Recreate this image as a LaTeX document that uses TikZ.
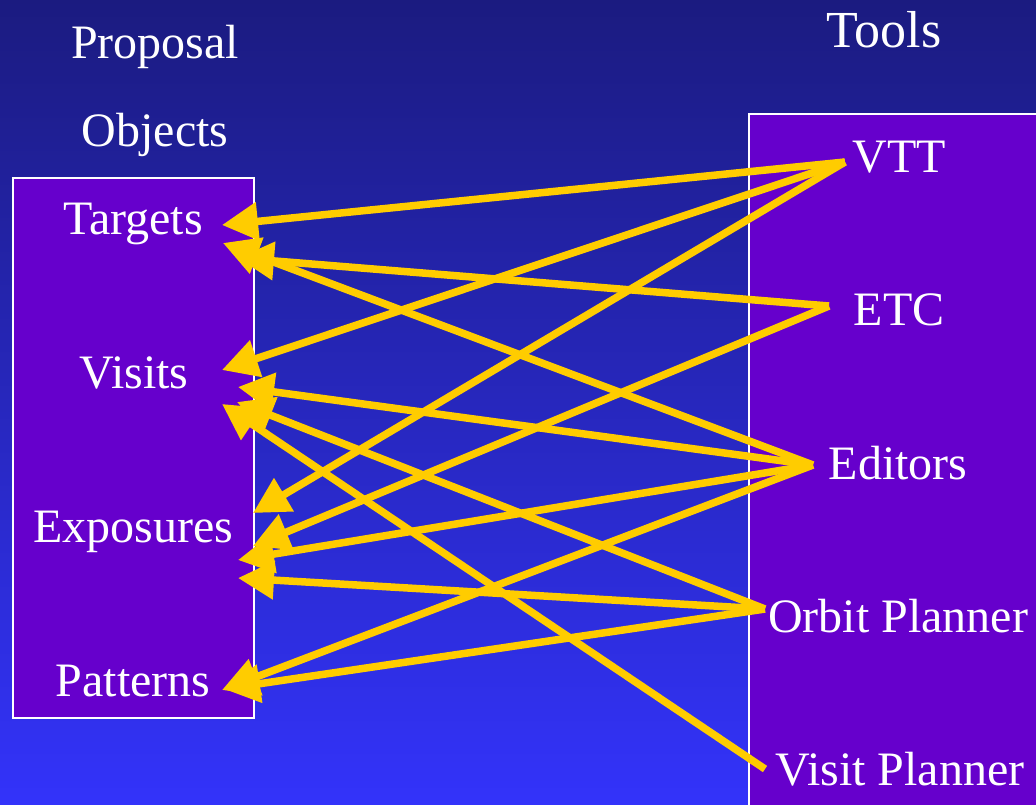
\documentclass[tikz,border=0pt]{standalone}
\usepackage{fontspec}
\setmainfont{Liberation Serif}
\usetikzlibrary{arrows.meta}
\definecolor{navytop}{RGB}{27,27,128}
\definecolor{bluebot}{RGB}{51,51,250}
\definecolor{panelc}{RGB}{102,0,204}
\definecolor{gold}{RGB}{255,204,0}
\begin{document}
\begin{tikzpicture}[x=1pt,y=-1pt,
  lbl/.style={text=white,font=\fontsize{48}{52}\selectfont,anchor=base,inner sep=0pt},
  link/.style={draw=gold,line width=7.5pt,line cap=butt,-{Triangle[length=36pt,width=37pt]}},
  panel/.style={fill=panelc,draw=white,line width=1.5pt}]
\useasboundingbox (0,0) rectangle (1036,804);
% background
\shade[top color=navytop,bottom color=bluebot] (0,0) rectangle (1036,804);
% the two panels
\path[panel] (13,178) rectangle (254,718);
\path[panel] (749,114) rectangle (1050,820);

% headings
\node[lbl] (proposal) at (155,58) {Proposal};
\node[lbl] (objects) at (155,146) {Objects};
\node[lbl,font=\fontsize{52}{56}\selectfont] (tools) at (884,47) {Tools};

% proposal objects
\node[lbl] (targets) at (133,234) {Targets};
\node[lbl] (visits) at (134,388) {Visits};
\node[lbl] (exposures) at (133,542) {Exposures};
\node[lbl] (patterns) at (133,696) {Patterns};

% tools
\node[lbl] (vtt) at (899,172) {VTT};
\node[lbl] (etc) at (899,325) {ETC};
\node[lbl] (editors) at (898,479) {Editors};
\node[lbl] (orbit) at (898,632) {Orbit Planner};
\node[lbl] (visitp) at (900,785) {Visit Planner};

% connector ends on the tool side
\coordinate (vtt-o) at (845,162);
\coordinate (etc-o) at (829,306);
\coordinate (editors-o) at (813,465);
\coordinate (orbit-o) at (765,609);
\coordinate (visitp-o) at (765,769);

% connector ends on the object side
\coordinate (targets-a) at (222,225);
\coordinate (targets-b) at (223,243);
\coordinate (targets-c) at (238,258);
\coordinate (visits-a) at (222,370);
\coordinate (visits-b) at (238,387);
\coordinate (visits-c) at (237,402);
\coordinate (visits-d) at (222,404);
\coordinate (exposures-a) at (253,513);
\coordinate (exposures-b) at (253,546);
\coordinate (exposures-c) at (238,560);
\coordinate (exposures-d) at (238,578);
\coordinate (patterns-a) at (222,690);
\coordinate (patterns-b) at (224,689);

% links
\draw[link] (vtt-o) -- (targets-a);
\draw[link] (vtt-o) -- (visits-a);
\draw[link] (vtt-o) -- (exposures-a);
\draw[link] (etc-o) -- (targets-c);
\draw[link] (etc-o) -- (exposures-b);
\draw[link] (editors-o) -- (targets-b);
\draw[link] (editors-o) -- (visits-b);
\draw[link] (editors-o) -- (exposures-c);
\draw[link] (editors-o) -- (patterns-a);
\draw[link] (orbit-o) -- (visits-c);
\draw[link] (orbit-o) -- (exposures-d);
\draw[link] (orbit-o) -- (patterns-b);
\draw[link] (visitp-o) -- (visits-d);
\end{tikzpicture}
\end{document}
